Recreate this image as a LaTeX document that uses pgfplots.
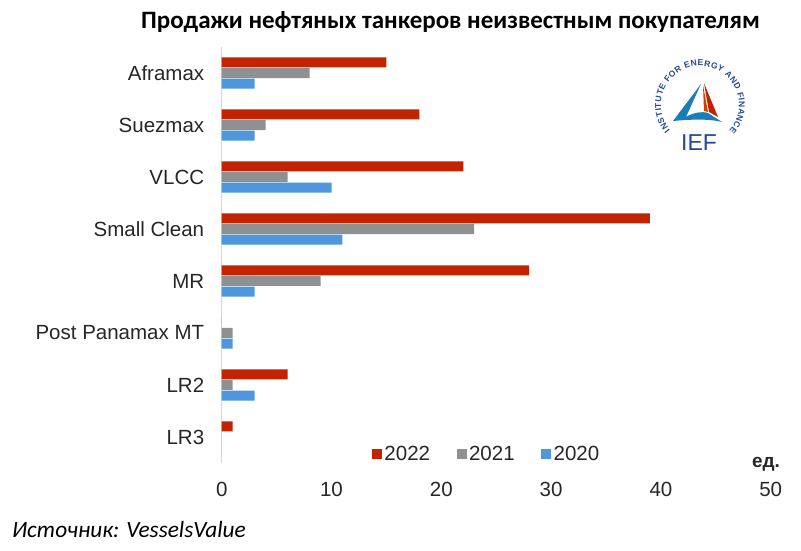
\documentclass[border=0pt]{standalone}
\usepackage{pgfplots}
\pgfplotsset{compat=1.18}
\usepackage{fontspec}
\setmainfont{Liberation Sans}
\newfontfamily\calibri{Carlito}
\usetikzlibrary{decorations.text}
\definecolor{c22}{HTML}{C02400}
\definecolor{c21}{HTML}{8F9092}
\definecolor{c20}{HTML}{4F97DC}
\definecolor{iefblue}{HTML}{24479A}
\definecolor{axgray}{HTML}{D9D9D9}
\begin{document}
\begin{tikzpicture}[x=1pt,y=1pt]
\path[use as bounding box] (0,0) rectangle (801,551);
\begin{axis}[
  at={(221.7pt,88pt)}, anchor=south west,
  scale only axis, width=549pt, height=416pt,
  xmin=0, xmax=50, ymin=-0.5, ymax=7.5,
  xbar, bar width=10pt,
  axis lines*=left,
  x axis line style={draw=none},
  y axis line style={draw=axgray, line width=1pt},
  major tick length=0pt,
  xtick={0,10,20,30,40,50},
  ytick={0,1,2,3,4,5,6,7},
  yticklabels={LR3,LR2,Post Panamax MT,MR,Small Clean,VLCC,Suezmax,Aframax},
  /pgf/number format/assume math mode=true,
  tick label style={font=\fontsize{20.5pt}{24pt}\selectfont, text=black!85},
  xticklabel style={yshift=-16pt},
  yticklabel style={xshift=-14pt},
  legend columns=3,
  legend style={at={(0.483,0.022)}, anchor=center, draw=none, fill=none,
    font=\fontsize{20.5pt}{24pt}\selectfont, text=black!85,
    nodes={inner sep=2.5pt},
    /tikz/every even column/.append style={column sep=24pt}},
  legend image code/.code={\fill[#1,draw=none] (0pt,-5pt) rectangle (10pt,5pt);},
]
\addplot[fill=c22, draw=none, bar shift=10.7pt] coordinates {
 (1,0) (6,1) (0,2) (28,3) (39,4) (22,5) (18,6) (15,7)};
\addplot[fill=c21, draw=none, bar shift=0pt] coordinates {
 (0,0) (1,1) (1,2) (9,3) (23,4) (6,5) (4,6) (8,7)};
\addplot[fill=c20, draw=none, bar shift=-10.7pt] coordinates {
 (0,0) (3,1) (1,2) (3,3) (11,4) (10,5) (3,6) (3,7)};
\legend{2022,2021,2020}
\end{axis}
% title
\node[font=\calibri\bfseries\fontsize{25pt}{29pt}\selectfont] at (450.5,529) {Продажи нефтяных танкеров неизвестным покупателям};
% unit
\node[font=\bfseries\fontsize{19pt}{22pt}\selectfont, text=black!85] at (766,87) {ед.};
% source
\node[anchor=west, font=\calibri\itshape\fontsize{23.3pt}{27pt}\selectfont, inner sep=0pt] at (12,21) {Источник: VesselsValue};
% logo
\begin{scope}[shift={(700,446)}]
\path[decorate, decoration={text along path, text align=fit to path,
  text={|\fontsize{8.5pt}{9pt}\selectfont\bfseries\color{iefblue}|INSTITUTE FOR ENERGY AND FINANCE}}]
  (220:39) arc[start angle=220, end angle=-42, radius=39];
\fill[iefblue!70!cyan] (1,21) -- (-27,-16) .. controls (-5,-14) and (10,-14) .. (22,-17) -- (8,-8) .. controls (2,-6) and (-8,-8) .. (-14,-12) -- cycle;
\fill[c22] (4,22) -- (18,-12) -- (9,-7) -- cycle;
\fill[c22!70!orange] (3,20) -- (8,-7) -- (4,-6) -- cycle;
\node[font=\fontsize{23pt}{26pt}\selectfont, text=iefblue] at (-1,-38) {IEF};
\end{scope}
\end{tikzpicture}
\end{document}
